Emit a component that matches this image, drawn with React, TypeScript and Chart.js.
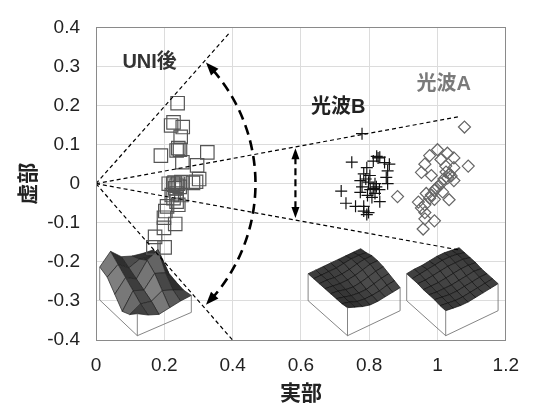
import { useEffect, useRef } from 'react';
import { Chart, registerables } from 'chart.js';
Chart.register(...registerables);

const xTickLabels = ['0', '0.2', '0.4', '0.6', '0.8', '1', '1.2'];
const yTickLabels = ['-0.4', '-0.3', '-0.2', '-0.1', '0', '0.1', '0.2', '0.3', '0.4'];

// UNI後 (squares)
const uniPoints: number[][] = [
  [0.239, 0.206], [0.227, 0.157], [0.220, 0.149], [0.254, 0.145], [0.248, 0.120],
  [0.241, 0.091], [0.246, 0.087], [0.236, 0.085], [0.190, 0.072], [0.326, 0.080],
  [0.253, 0.055], [0.296, 0.047], [0.302, 0.012], [0.284, 0.002], [0.213, 0.0],
  [0.230, 0.003], [0.240, 0.0], [0.250, 0.004], [0.236, -0.005], [0.293, 0.005],
  [0.232, -0.012], [0.236, -0.025], [0.222, -0.029], [0.250, -0.029], [0.227, -0.037],
  [0.236, -0.046], [0.208, -0.058], [0.241, -0.054], [0.203, -0.070], [0.199, -0.087],
  [0.232, -0.103], [0.199, -0.113], [0.173, -0.136], [0.168, -0.163], [0.201, -0.163],
  [0.245, -0.008], [0.226, 0.0],
];

// 光波B (plus)
const bPoints: number[][] = [
  [0.779, 0.128], [0.749, 0.055], [0.831, 0.068], [0.822, 0.070], [0.826, 0.066],
  [0.812, 0.058], [0.845, 0.054], [0.859, 0.050], [0.793, 0.041], [0.854, 0.033],
  [0.784, 0.025], [0.802, 0.021], [0.850, 0.016], [0.774, 0.008], [0.798, 0.004],
  [0.817, 0.0], [0.854, 0.0], [0.779, -0.008], [0.812, -0.012], [0.821, -0.008],
  [0.718, -0.019], [0.774, -0.022], [0.817, -0.025], [0.795, -0.030], [0.831, -0.046],
  [0.732, -0.050], [0.760, -0.058], [0.784, -0.058], [0.798, -0.074], [0.784, -0.070],
  [0.793, -0.079], [0.808, -0.035], [0.803, -0.015], [0.790, 0.012], [0.830, -0.015],
];

// 光波A (diamonds)
const aPoints: number[][] = [
  [1.079, 0.145], [1.090, 0.045], [1.000, 0.087], [0.977, 0.072], [1.029, 0.078],
  [1.048, 0.066], [1.010, 0.062], [0.963, 0.050], [1.024, 0.045], [1.048, 0.041],
  [0.953, 0.029], [0.982, 0.021], [1.019, 0.012], [1.030, 0.015], [1.040, 0.020],
  [1.048, 0.008], [1.010, 0.0], [1.002, -0.008], [0.996, -0.012], [0.991, -0.017],
  [1.015, -0.021], [0.967, -0.025], [0.982, -0.029], [0.977, -0.037], [0.944, -0.047],
  [1.034, -0.041], [0.991, -0.040], [0.963, -0.054], [0.963, -0.074], [0.991, -0.095],
  [0.963, -0.090], [0.958, -0.116], [0.883, -0.033], [0.953, -0.062], [1.025, 0.030],
  [1.035, 0.025],
];

// guide lines from origin
const guideUpperSteep = [[0, 0], [0.39, 0.385]];
const guideLowerSteep = [[0, 0], [0.4, -0.4]];
const guideUpperShallow = [[0, 0], [1.066, 0.172]];
const guideLowerShallow = [[0, 0], [1.066, -0.17]];

// annotation texts and anchors (data units)
const labelTexts = ['UNI後', '光波B', '光波A'];
const labelAnchors = [[0.157, 0.311], [0.709, 0.194], [1.018, 0.254]];

// arrows (data units)
const bigArrow = [[0.322, 0.31], [0.467, 0], [0.322, -0.31]];
const smallArrow = [[0.584, 0.091], [0.584, -0.088]];

// inset surfaces: front-bottom corner in data units, heights grid (px)
const insetAnchors = [[0.121, -0.389], [0.7365, -0.389], [1.024, -0.389]];
const insetHeightsUNI = [
  [22, 16, 12, 14, 16, 17],
  [14, 20, 18, 24, 20, 15],
  [10, 26, 22, 34, 30, 16],
  [20, 32, 26, 40, 46, 18],
  [30, 38, 30, 34, 32, 22],
  [33, 44, 34, 30, 28, 27],
];
const insetHeightsB = [
  [28, 25, 22, 20, 20, 21, 22, 23],
  [27, 25, 22, 21, 21, 22, 24, 25],
  [27, 25, 23, 22, 22, 24, 26, 27],
  [27, 26, 24, 23, 24, 26, 28, 29],
  [27, 26, 25, 25, 26, 28, 30, 30],
  [27, 27, 26, 26, 27, 29, 30, 30],
  [27, 27, 27, 27, 28, 29, 29, 28],
  [27, 27, 27, 27, 27, 27, 27, 27],
];
const insetHeightsA = [
  [25, 24, 23, 23, 24, 25, 26, 27],
  [25, 24, 23, 23, 24, 25, 26, 27],
  [26, 25, 24, 24, 25, 26, 27, 27],
  [26, 25, 25, 25, 26, 27, 28, 27],
  [26, 26, 26, 27, 28, 29, 29, 28],
  [27, 27, 28, 29, 30, 30, 30, 28],
  [27, 28, 29, 30, 31, 31, 30, 28],
  [27, 28, 28, 29, 30, 30, 29, 28],
];

const insetStyles = [
  { ex: [54, -23.3], ey: [-37.6, -35.7], lo: 40, hi: 128, pw: 3, mesh: '#222' },
  { ex: [52.6, -25], ey: [-39.4, -35], lo: 42, hi: 85, pw: 3, mesh: '#111' },
  { ex: [52.4, -25], ey: [-39, -35], lo: 42, hi: 85, pw: 3, mesh: '#111' },
];

const toXY = (arr: number[][]) => arr.map(([x, y]) => ({ x, y }));

const latinFont = '"Liberation Sans", Arial, "Noto Sans CJK JP", sans-serif';
const cjkFont = '"Noto Sans CJK JP", "Noto Sans CJK SC", sans-serif';

function drawInset(ctx: CanvasRenderingContext2D, ox: number, oy: number, H: number[][], st: any) {
  const n = H.length;
  const m = H[0].length;
  const P = (u: number, v: number, h: number) => [
    ox + u * st.ex[0] + v * st.ey[0],
    oy + u * st.ex[1] + v * st.ey[1] - h,
  ];
  const cells: { i: number; j: number }[] = [];
  for (let j = 0; j < n - 1; j++) for (let i = 0; i < m - 1; i++) cells.push({ i, j });
  cells.sort((a, b) => (b.i + b.j) - (a.i + a.j));
  const L = [-0.5, -0.45, 0.75];
  const Ln = Math.hypot(L[0], L[1], L[2]);
  const du = 60 / (m - 1);
  const dv = 60 / (n - 1);
  ctx.save();
  ctx.lineJoin = 'round';
  for (const { i, j } of cells) {
    const h00 = H[j][i], h10 = H[j][i + 1], h11 = H[j + 1][i + 1], h01 = H[j + 1][i];
    const dz1 = ((h10 - h00) + (h11 - h01)) / 2;
    const dz2 = ((h01 - h00) + (h11 - h10)) / 2;
    const nx = -dz1 * dv, ny = -du * dz2, nz = du * dv;
    const nn = Math.hypot(nx, ny, nz);
    const d = Math.max(0, (nx * L[0] + ny * L[1] + nz * L[2]) / (nn * Ln));
    const g = Math.round(st.lo + (st.hi - st.lo) * Math.pow(d, st.pw));
    const u0 = i / (m - 1), u1 = (i + 1) / (m - 1);
    const v0 = j / (n - 1), v1 = (j + 1) / (n - 1);
    const a = P(u0, v0, h00), b = P(u1, v0, h10), c = P(u1, v1, h11), e = P(u0, v1, h01);
    ctx.beginPath();
    ctx.moveTo(a[0], a[1]);
    ctx.lineTo(b[0], b[1]);
    ctx.lineTo(c[0], c[1]);
    ctx.lineTo(e[0], e[1]);
    ctx.closePath();
    ctx.fillStyle = `rgb(${g},${g},${g})`;
    ctx.fill();
    ctx.strokeStyle = st.mesh;
    ctx.lineWidth = 0.7;
    ctx.stroke();
  }
  // box
  ctx.strokeStyle = '#666';
  ctx.lineWidth = 0.8;
  const f0 = P(0, 0, 0), r0 = P(1, 0, 0), l0 = P(0, 1, 0);
  const f1 = P(0, 0, H[0][0]), r1 = P(1, 0, H[0][m - 1]), l1 = P(0, 1, H[n - 1][0]);
  ctx.beginPath();
  ctx.moveTo(l0[0], l0[1]); ctx.lineTo(f0[0], f0[1]); ctx.lineTo(r0[0], r0[1]);
  ctx.moveTo(l0[0], l0[1]); ctx.lineTo(l1[0], l1[1]);
  ctx.moveTo(f0[0], f0[1]); ctx.lineTo(f1[0], f1[1]);
  ctx.moveTo(r0[0], r0[1]); ctx.lineTo(r1[0], r1[1]);
  ctx.stroke();
  ctx.restore();
}

function arrowHead(ctx: CanvasRenderingContext2D, tip: number[], dir: number[], len: number, wid: number) {
  const dl = Math.hypot(dir[0], dir[1]);
  const ux = dir[0] / dl, uy = dir[1] / dl;
  const bx = tip[0] - ux * len, by = tip[1] - uy * len;
  ctx.beginPath();
  ctx.moveTo(tip[0], tip[1]);
  ctx.lineTo(bx - uy * wid / 2, by + ux * wid / 2);
  ctx.lineTo(bx + uy * wid / 2, by - ux * wid / 2);
  ctx.closePath();
  ctx.fill();
}

const decorPlugin = {
  id: 'decor',
  beforeDatasetsDraw(chart: any) {
    const { ctx, scales } = chart;
    const xs = scales.x, ys = scales.y;
    const grids = [insetHeightsUNI, insetHeightsB, insetHeightsA];
    insetAnchors.forEach((an, k) => {
      drawInset(ctx, xs.getPixelForValue(an[0]), ys.getPixelForValue(an[1]), grids[k], insetStyles[k]);
    });
  },
  afterDatasetsDraw(chart: any) {
    const { ctx, scales, chartArea } = chart;
    const xs = scales.x, ys = scales.y;
    const px = (p: number[]) => [xs.getPixelForValue(p[0]), ys.getPixelForValue(p[1])];
    ctx.save();
    // plot box
    ctx.strokeStyle = '#8a8a8a';
    ctx.lineWidth = 1;
    ctx.strokeRect(Math.round(chartArea.left) + 0.5, Math.round(chartArea.top) + 0.5,
      Math.round(chartArea.right - chartArea.left) - 1, Math.round(chartArea.bottom - chartArea.top));

    // big arc arrow through three points
    const S = px(bigArrow[0]), M = px(bigArrow[1]), E = px(bigArrow[2]);
    const ax = S[0], ay = S[1], bx = M[0], by = M[1], cx = E[0], cy = E[1];
    const dd = 2 * (ax * (by - cy) + bx * (cy - ay) + cx * (ay - by));
    const ux = ((ax * ax + ay * ay) * (by - cy) + (bx * bx + by * by) * (cy - ay) + (cx * cx + cy * cy) * (ay - by)) / dd;
    const uy = ((ax * ax + ay * ay) * (cx - bx) + (bx * bx + by * by) * (ax - cx) + (cx * cx + cy * cy) * (bx - ax)) / dd;
    const r = Math.hypot(ax - ux, ay - uy);
    const aS = Math.atan2(ay - uy, ax - ux);
    const aE = Math.atan2(cy - uy, cx - ux);
    const headLen = 13;
    const dA = headLen / r;
    ctx.strokeStyle = '#000';
    ctx.fillStyle = '#000';
    ctx.lineWidth = 2.6;
    ctx.setLineDash([10, 6]);
    ctx.beginPath();
    ctx.arc(ux, uy, r, aS + dA * 0.8, aE - dA * 0.8, false);
    ctx.stroke();
    ctx.setLineDash([]);
    const nearS = [ux + r * Math.cos(aS + dA), uy + r * Math.sin(aS + dA)];
    const nearE = [ux + r * Math.cos(aE - dA), uy + r * Math.sin(aE - dA)];
    arrowHead(ctx, S, [S[0] - nearS[0], S[1] - nearS[1]], headLen, 10);
    arrowHead(ctx, E, [E[0] - nearE[0], E[1] - nearE[1]], headLen, 10);

    // small vertical arrow
    const T = px(smallArrow[0]), B = px(smallArrow[1]);
    ctx.lineWidth = 2.2;
    ctx.setLineDash([7, 4]);
    ctx.beginPath();
    ctx.moveTo(T[0], T[1] + 9);
    ctx.lineTo(B[0], B[1] - 9);
    ctx.stroke();
    ctx.setLineDash([]);
    arrowHead(ctx, T, [0, -1], 11, 8);
    arrowHead(ctx, B, [0, 1], 11, 8);

    // labels
    const colors = ['#333', '#222', '#7a7a7a'];
    ctx.font = `bold 20px ${latinFont}`;
    ctx.textAlign = 'center';
    ctx.textBaseline = 'middle';
    labelTexts.forEach((t, k) => {
      const p = px(labelAnchors[k]);
      ctx.fillStyle = colors[k];
      ctx.fillText(t, p[0], p[1]);
    });
    ctx.restore();
  },
};

export default function App() {
  const ref = useRef<HTMLCanvasElement | null>(null);
  useEffect(() => {
    if (!ref.current) return;
    const guide = (data: number[][]) => ({
      type: 'line' as const,
      data: toXY(data),
      borderColor: '#000',
      borderWidth: 1.2,
      borderDash: [4, 3],
      pointRadius: 0,
      showLine: true,
      fill: false,
    });
    const chart = new Chart(ref.current, {
      type: 'scatter',
      data: {
        datasets: [
          guide(guideUpperSteep),
          guide(guideLowerSteep),
          guide(guideUpperShallow),
          guide(guideLowerShallow),
          {
            label: 'UNI後',
            data: toXY(uniPoints),
            pointStyle: 'rect',
            pointRadius: 9.5,
            borderColor: '#555',
            borderWidth: 1.2,
            backgroundColor: 'rgba(0,0,0,0)',
          },
          {
            label: '光波B',
            data: toXY(bPoints),
            pointStyle: 'cross',
            pointRadius: 6,
            borderColor: '#111',
            borderWidth: 1.2,
            backgroundColor: 'rgba(0,0,0,0)',
          },
          {
            label: '光波A',
            data: toXY(aPoints),
            pointStyle: 'rectRot',
            pointRadius: 6,
            borderColor: '#666',
            borderWidth: 1.2,
            backgroundColor: 'rgba(0,0,0,0)',
          },
        ] as any,
      },
      options: {
        animation: false,
        responsive: false,
        events: [],
        layout: { padding: { top: 17, right: 12, left: 0, bottom: 0 } },
        plugins: { legend: { display: false }, tooltip: { enabled: false } },
        scales: {
          x: {
            type: 'linear',
            min: 0,
            max: 1.2,
            afterFit: (s: any) => { s.height = 65; },
            ticks: {
              stepSize: 0.2,
              padding: 14,
              color: '#222',
              font: { family: latinFont, size: 19 },
              callback: (_v: any, i: number) => xTickLabels[i],
            },
            grid: { color: '#dcdcdc', drawTicks: false },
            border: { color: '#8a8a8a' },
            title: {
              display: true,
              text: '実部',
              color: '#222',
              font: { family: cjkFont, size: 21, weight: 'bold' },
              padding: { top: 0, bottom: 0 },
            },
          },
          y: {
            type: 'linear',
            min: -0.4,
            max: 0.4,
            afterFit: (s: any) => { s.width = 96; },
            ticks: {
              stepSize: 0.1,
              padding: 16,
              color: '#222',
              font: { family: latinFont, size: 19 },
              callback: (_v: any, i: number) => yTickLabels[i],
            },
            grid: { color: '#dcdcdc', drawTicks: false },
            border: { color: '#8a8a8a' },
            title: {
              display: true,
              text: '虚部',
              color: '#222',
              font: { family: cjkFont, size: 21, weight: 'bold' },
              padding: { top: 14, bottom: 0 },
            },
          },
        },
      } as any,
      plugins: [decorPlugin],
    });
    return () => chart.destroy();
  }, []);
  return (
    <div style={{ position: 'fixed', left: 0, top: 0, width: 533, height: 405, background: '#fff' }}>
      <canvas ref={ref} width={533} height={405} style={{ display: 'block' }} />
    </div>
  );
}
